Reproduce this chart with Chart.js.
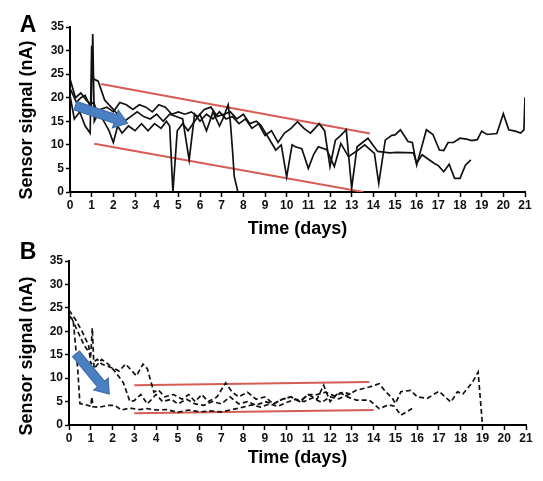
<!DOCTYPE html>
<html>
<head>
<meta charset="utf-8">
<script src="https://cdn.jsdelivr.net/npm/chart.js@4/dist/chart.umd.min.js"></script>
<style>
  html, body { margin: 0; padding: 0; background: #ffffff; }
  #wrap { position: relative; width: 543px; height: 481px; overflow: hidden; }
  canvas { position: absolute; left: 0; }
  #cA { top: 0; }
  #cB { top: 240px; }
</style>
</head>
<body>
<div id="wrap">
  <canvas id="cA" width="543" height="240"></canvas>
  <canvas id="cB" width="543" height="241"></canvas>
</div>
<script>
// ---------- Panel A data (solid lines) ----------
const a1X = [0,0.25,0.5,0.75,0.98,1.05,1.12,1.4,1.7,2.0,2.3,2.6,2.9,3.2,3.5,3.8,4.1,4.4,4.7,5.0,5.3,5.6,5.9,6.2,6.5,6.8,7.1,7.4,7.7,8.0,8.3,8.6,8.8,9.2,9.5,9.75,10.0,10.25,10.4,10.7,11.0,11.25,11.46,11.85,12.2,12.5,12.85,13.3,13.6,14.05,14.25,14.55,14.85,15.0,15.25,15.6,15.8,16.0,16.45,16.75,17.05,17.25,17.45,17.7,18.0,18.3,18.55,18.8,19.0,19.25,19.7,20.0,20.25,20.55,20.8,20.95,21.0];
const a1Y = [24,20,21,19.5,18.5,33.5,15,17.5,18,17,19,18.5,17.5,18.5,18,17,18.5,18,16.5,17,16.5,17,16,17.5,18,16,16.5,17,15.5,16.5,14.5,15,14.2,11.2,8.9,10,3.2,10,9.6,9.2,5.0,8,9.6,9.0,5.4,10.3,7.5,8.9,10,8.2,1.8,11,12,12.1,13.2,10.7,10.5,5.7,13.2,12.2,8.9,8.8,10.5,10.5,11.4,11.2,10.9,11.1,12.9,12.2,12.4,16.6,13.2,12.9,12.5,13.2,20.1];
const a2X = [0,0.2,0.45,0.7,0.93,1.0,1.08,1.3,1.6,1.9,2.2,2.5,2.8,3.1,3.4,3.7,4.0,4.3,4.6,4.9,5.2,5.5,5.75,6.0,6.3,6.6,6.9,7.2,7.5,7.8,8.1,8.4,8.7,9.0,9.3,9.6,9.9,10.2,10.5,10.8,11.1,11.5,11.75,12.0,12.25,12.5,12.75,13.0,13.25,13.5,13.75,14.2,14.75,15.1,15.85,16.0,16.25,16.8,17.0,17.25,17.5,17.75,18.0,18.25,18.5];
const a2Y = [20.5,15.5,17,14,12.5,31,24,23.5,19.5,18,16.5,15,16,17,16,15.5,16.5,15,16.5,16,15.5,6.8,16.5,15,16.5,15.5,17,15.5,16,14.5,15.5,13.5,14.5,12,13,10.5,12.5,13.5,14.9,13.5,12.5,14.5,13,5.4,11,12,13.2,0.8,9.6,10.5,11.4,8.6,8.3,8.4,8.3,6.1,7.9,6.1,5.6,4.3,5.9,2.9,2.9,5.7,6.8];
const a3X = [0,0.3,0.5,0.7,0.9,1.1,1.3,1.5,1.8,2.0,2.2,2.4,2.7,3.0,3.3,3.6,3.9,4.2,4.45,4.6,4.75,4.95,5.2,5.45,5.75,6.0,6.3,6.6,6.9,7.1,7.3,7.4,7.5,7.58,7.75];
const a3Y = [22,19,20,20.5,18.5,19,16,15.5,13,10.5,14,12.5,14,13,14.5,13,14.5,13.5,15,14,0,13,14.5,13,15,16.5,13,17,14,16,18.5,14.9,8.9,3.3,0];
const aTrendUpX = [1.43, 13.84], aTrendUpY = [22.9, 12.4];
const aTrendLoX = [1.12, 13.54], aTrendLoY = [10.25, 0];
const aArrowX = [0.25, 2.66], aArrowY = [18.3, 14.6];

// ---------- Panel B data (dashed lines) ----------
const b1X = [0,0.2,0.4,0.5,0.7,1.0,1.05,1.1,1.4,1.8,2.1,2.4,2.8,3.2,3.6,4.0,4.5,5.0,5.5,6.0,6.5,7.0,7.5,8.0,8.4,8.8,9.2,9.6,10.0,10.4,10.8,11.2,11.6,12.0,12.4,12.8,13.2,13.8,14.25,14.55,14.86,15.0,15.25,15.7,16.0,16.47,17.0,17.55,17.85,18.1,18.55,18.8,19.0];
const b1Y = [23.5,22,12,4.6,4.4,4.0,6.0,3.9,3.8,4.2,4.2,3.2,3.6,3.3,3.5,3.2,3.3,2.7,3.2,2.8,3.0,2.8,3.3,3.8,4.3,3.8,4.5,4.0,4.8,5.5,5.0,5.8,4.8,6.0,5.6,6.4,7.4,8.1,8.8,7.1,5.7,4.6,7.1,7.4,6.0,5.7,7.2,4.9,7.1,6.6,9.2,11.3,0];
const b2X = [0,0.3,0.6,0.9,1.0,1.3,1.5,1.8,2.1,2.3,2.6,2.9,3.1,3.4,3.6,3.9,4.1,4.4,4.8,5.2,5.5,5.8,6.1,6.4,6.8,7.2,7.5,7.8,8.2,8.6,9.0,9.4,9.8,10.2,10.6,11.0,11.4,11.7,12.0,12.4,12.8,13.2,13.8,14.25,14.7,14.95,15.25,15.77];
const b2Y = [24.5,22.5,20,17,13,14,13,12.5,12,11.5,13,11.5,10.5,13,12,7,7.5,6,6.5,5.5,6.5,5,6.5,5,6,9,7,6,7,5.5,6,4.5,5.5,6,5,6.5,5.5,8.5,5,7,6,5.3,5.3,3.5,4.3,4.0,2.1,3.5];
const b3X = [0.1,0.4,0.7,1.0,1.07,1.15,1.5,1.8,2.1,2.5,2.8,3.0,3.3,3.6,4.0,4.3,4.7,5.0,5.4,5.8,6.2,6.6,7.0,7.4,7.8,8.2,8.6,9.0,9.4,9.8,10.2,10.6,11.0,11.4,11.8,12.2,12.6,13.0];
const b3Y = [23,20,17,15,20.7,12,14,13,11.5,9,5,5.2,6.5,4.5,6.5,5,5.5,4.5,5.5,4.5,4.2,5,4.5,6,4.5,5,4.2,5,4.5,5.5,6,5,6.5,6.5,7,6.2,7,6.5];
const bTrendUpX = [3.0, 13.8], bTrendUpY = [8.5, 9.2];
const bTrendLoX = [3.0, 14.0], bTrendLoY = [2.5, 3.2];
const bArrowX = [0.32, 1.85], bArrowY = [15.2, 6.6];

// ---------- shared labels ----------
const xTitle = 'Time (days)';
const yTitle = 'Sensor signal (nA)';
const xMin = 0, xMax = 21, yMin = 0, yMax = 35;

const FONT = "'Liberation Sans', Arial, Helvetica, sans-serif";
const RED = 'rgb(214,92,84)';

function pts(xs, ys) { return xs.map((x, i) => ({ x: x, y: ys[i] })); }

function lineDs(xs, ys, dashed) {
  return { data: pts(xs, ys), borderColor: '#111', borderWidth: 1.7,
           borderDash: dashed ? [5, 3] : [], showLine: true, pointRadius: 0, tension: 0 };
}
function trendDs(xs, ys) {
  return { data: pts(xs, ys), borderColor: RED, borderWidth: 2, showLine: true, pointRadius: 0, tension: 0 };
}

function decorPlugin(letter, letterY, yTitleY, arrowX, arrowY) {
  return {
    id: 'decor' + letter,
    afterDatasetsDraw(chart) {
      const ctx = chart.ctx;
      const xs = chart.scales.x, ys = chart.scales.y;
      // arrow
      const x0 = xs.getPixelForValue(arrowX[0]), y0 = ys.getPixelForValue(arrowY[0]);
      const x1 = xs.getPixelForValue(arrowX[1]), y1 = ys.getPixelForValue(arrowY[1]);
      const ang = Math.atan2(y1 - y0, x1 - x0);
      const len = Math.hypot(x1 - x0, y1 - y0);
      const sw = 4.5, hw = 9.5, hl = 13;
      ctx.save();
      ctx.translate(x0, y0);
      ctx.rotate(ang);
      ctx.beginPath();
      ctx.moveTo(0, -sw);
      ctx.lineTo(len - hl, -sw);
      ctx.lineTo(len - hl, -hw);
      ctx.lineTo(len, 0);
      ctx.lineTo(len - hl, hw);
      ctx.lineTo(len - hl, sw);
      ctx.lineTo(0, sw);
      ctx.closePath();
      ctx.fillStyle = '#4a7fc1';
      ctx.fill();
      ctx.strokeStyle = '#3d6aa6';
      ctx.lineWidth = 1;
      ctx.stroke();
      ctx.restore();
    },
    afterDraw(chart) {
      const ctx = chart.ctx;
      ctx.save();
      ctx.fillStyle = '#000';
      ctx.font = 'bold 23px ' + FONT;
      ctx.textAlign = 'center';
      ctx.textBaseline = 'middle';
      ctx.fillText(letter, 28, letterY);
      ctx.translate(27, yTitleY);
      ctx.rotate(-Math.PI / 2);
      ctx.font = 'bold 18px ' + FONT;
      ctx.fillText(yTitle, 0, 0);
      ctx.restore();
    }
  };
}

function makeChart(id, datasets, pad, yWidth, xHeight, titlePadBottom, plugin) {
  return new Chart(document.getElementById(id), {
    type: 'scatter',
    data: { datasets: datasets },
    options: {
      responsive: false, animation: false, devicePixelRatio: 1,
      layout: { padding: pad },
      plugins: { legend: { display: false }, tooltip: { enabled: false } },
      scales: {
        x: {
          type: 'linear', min: xMin, max: xMax,
          afterFit: s => { s.height = xHeight; },
          border: { display: true, color: '#000', width: 2 },
          grid: { display: true, drawOnChartArea: false, drawTicks: true, tickLength: 5, tickColor: '#000', tickWidth: 1.5 },
          ticks: { stepSize: 1, autoSkip: false, maxRotation: 0, padding: 1, color: '#111',
                   font: { family: FONT, size: 12, weight: 'bold' } },
          title: { display: true, text: xTitle, color: '#000', padding: { top: 0, bottom: titlePadBottom },
                   font: { family: FONT, size: 18, weight: 'bold' } }
        },
        y: {
          type: 'linear', min: yMin, max: yMax,
          afterFit: s => { s.width = yWidth; },
          border: { display: true, color: '#000', width: 2 },
          grid: { display: true, drawOnChartArea: false, drawTicks: true, tickLength: 4, tickColor: '#000', tickWidth: 1.5 },
          ticks: { stepSize: 5, padding: 2, color: '#111',
                   font: { family: FONT, size: 12, weight: 'bold' } }
        }
      }
    },
    plugins: [plugin]
  });
}

makeChart('cA',
  [lineDs(a1X, a1Y, false), lineDs(a2X, a2Y, false), lineDs(a3X, a3Y, false),
   trendDs(aTrendUpX, aTrendUpY), trendDs(aTrendLoX, aTrendLoY)],
  { left: 0, right: 18, top: 27, bottom: 0 }, 70, 48, 0,
  decorPlugin('A', 26, 120, aArrowX, aArrowY));

makeChart('cB',
  [lineDs(b1X, b1Y, true), lineDs(b2X, b2Y, true), lineDs(b3X, b3Y, true),
   trendDs(bTrendUpX, bTrendUpY), trendDs(bTrendLoX, bTrendLoY)],
  { left: 0, right: 17, top: 21, bottom: 0 }, 69, 56, 12,
  decorPlugin('B', 13, 116, bArrowX, bArrowY));
</script>
</body>
</html>
